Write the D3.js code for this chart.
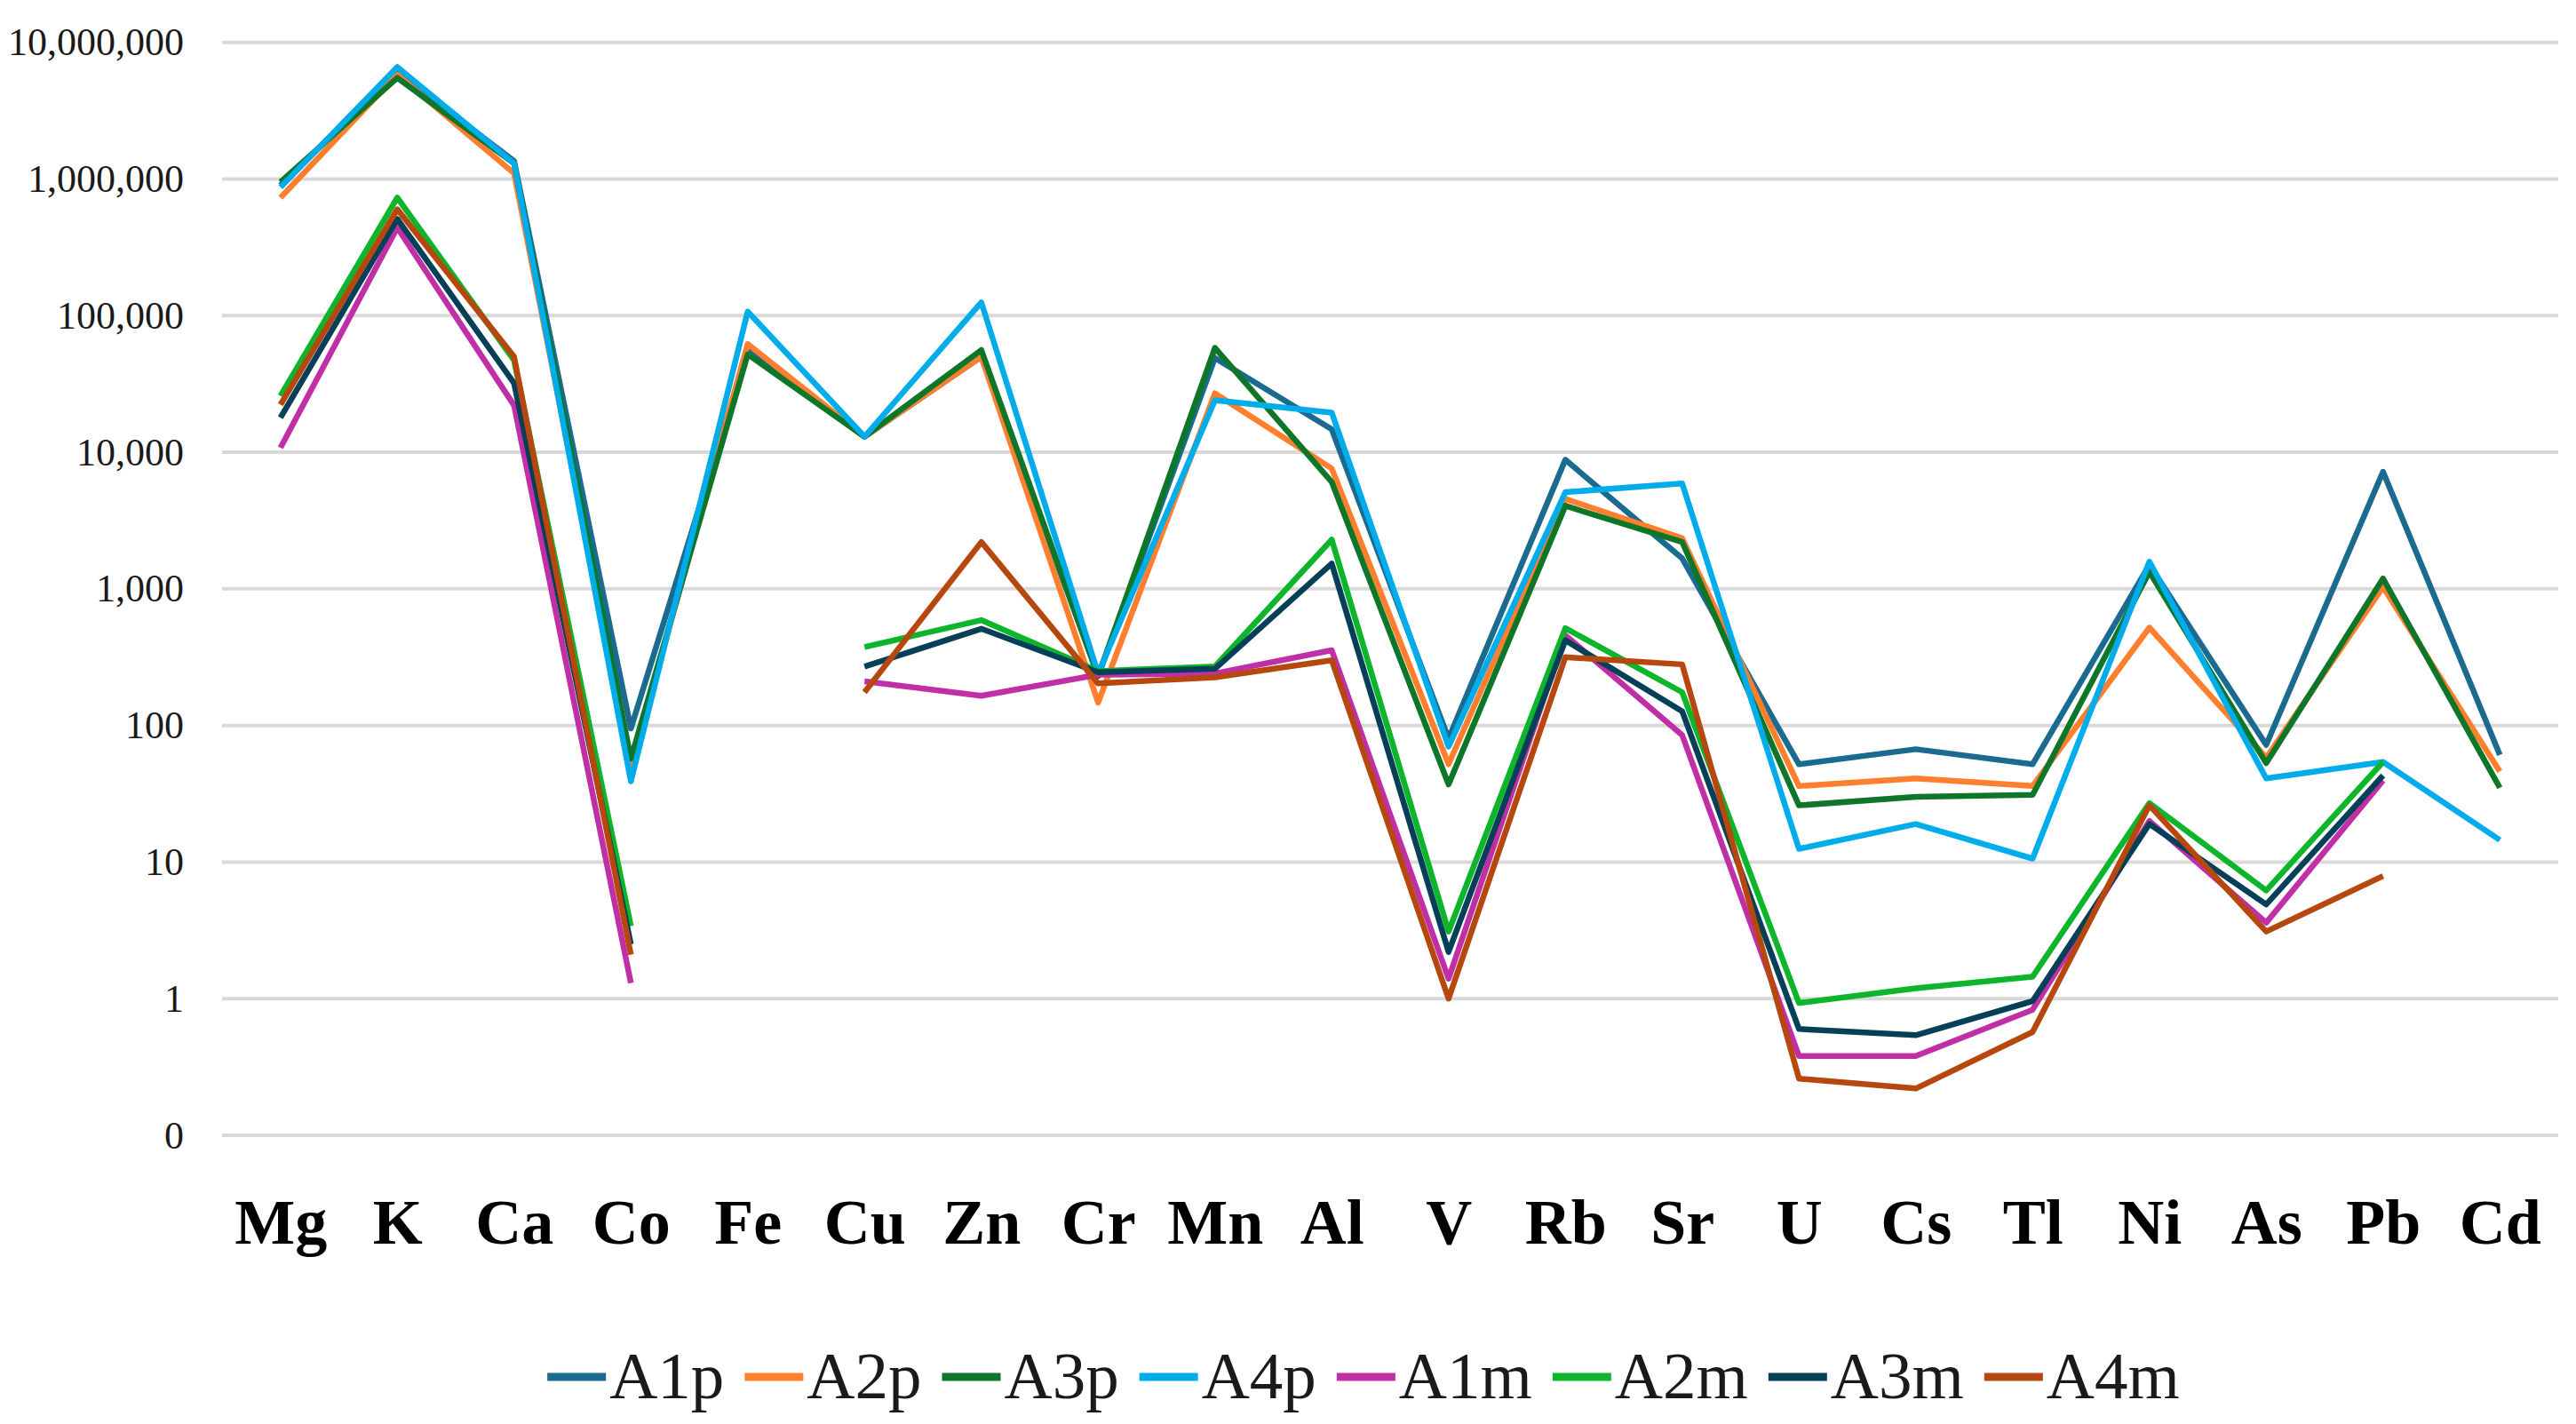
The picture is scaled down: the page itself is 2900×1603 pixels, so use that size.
<!DOCTYPE html>
<html>
<head>
<meta charset="utf-8">
<script src="https://cdn.jsdelivr.net/npm/d3@7"></script>
<style>
  body { margin: 0; background: #fff; }
  svg text { font-family: "Liberation Serif", "DejaVu Serif", serif; }
</style>
</head>
<body>
<div class="chart"></div>
<script>
// data
var elements = ['Mg', 'K', 'Ca', 'Co', 'Fe', 'Cu', 'Zn', 'Cr', 'Mn', 'Al', 'V', 'Rb', 'Sr', 'U', 'Cs', 'Tl', 'Ni', 'As', 'Pb', 'Cd'];
var seriesNames = ['A1p', 'A2p', 'A3p', 'A4p', 'A1m', 'A2m', 'A3m', 'A4m'];
var A1p = [900000, 6100000, 1350000, 95, 55000, 13000, 50000, 230, 49000, 14700, 80, 8800, 1670, 52, 67, 52, 1500, 72, 7200, 61];
var A2p = [730000, 5800000, 1100000, 50, 62000, 13000, 50000, 147, 27000, 7600, 52, 4550, 2350, 36, 41, 36, 520, 58, 1030, 46];
var A3p = [950000, 5500000, 1300000, 57, 52000, 13000, 56000, 230, 58000, 6050, 37, 4050, 2200, 26, 30, 31, 1330, 53, 1190, 35];
var A4p = [870000, 6600000, 1300000, 39, 107000, 13000, 125000, 240, 24000, 19500, 70, 5100, 5900, 12.5, 19, 10.6, 1580, 41, 54, 14.5];
var A1m = [10800, 440000, 22000, 1.3, null, 210, 165, 235, 240, 355, 1.4, 457, 85, 0.38, 0.38, 0.83, 20, 3.6, 39.5, null];
var A2m = [25800, 730000, 47000, 3.4, null, 375, 590, 250, 270, 2290, 3.1, 515, 175, 0.93, 1.19, 1.45, 27, 6.2, 54, null];
var A3m = [17900, 510000, 32000, 2.5, null, 270, 510, 245, 260, 1530, 2.2, 420, 127, 0.6, 0.54, 0.96, 19, 4.9, 43, null];
var A4m = [22300, 600000, 50000, 2.1, null, 175, 2200, 203, 225, 300, 1.0, 316, 280, 0.26, 0.22, 0.57, 26, 3.1, 7.9, null];
var yTicks = [0.1, 1, 10, 100, 1000, 10000, 100000, 1000000, 10000000];

var seriesValues = [A1p, A2p, A3p, A4p, A1m, A2m, A3m, A4m];
var colors = ['#1b6a90', '#ff7f2e', '#0e7628', '#00acea', '#c02fa6', '#0db52b', '#063f58', '#b6470f'];

// Options
var width = 2900,
	height = 1603;
var plotLeft = 250, plotRight = 2880, plotTop = 47.7, plotBottom = 1278;

var svg = d3.select('.chart')
	.append('svg')
	.attr('width', width)
	.attr('height', height);

var x = d3.scalePoint()
	.domain(elements)
	.range([plotLeft, plotRight])
	.padding(0.5);

var y = d3.scaleLog()
	.domain([0.1, 10000000])
	.range([plotBottom, plotTop]);

// gridlines
svg.append('g').attr('class', 'grid').selectAll('line')
	.data(yTicks)
	.enter()
	.append('line')
	.attr('x1', plotLeft)
	.attr('x2', plotRight)
	.attr('y1', function(d) { return y(d); })
	.attr('y2', function(d) { return y(d); })
	.attr('stroke', '#d9d9d9')
	.attr('stroke-width', 4);

// y axis
var yAxis = d3.axisLeft(y)
	.tickValues(yTicks)
	.tickFormat(d3.format(',.0f'))
	.tickSize(0)
	.tickPadding(43);

var gy = svg.append('g')
	.attr('transform', 'translate(' + plotLeft + ',0)')
	.call(yAxis);
gy.select('.domain').remove();
gy.selectAll('text')
	.attr('font-size', 44)
	.attr('fill', '#1a1a1a')
	.style('font-family', '"Liberation Serif", serif');

// x axis
var xAxis = d3.axisBottom(x).tickSize(0).tickPadding(0);
var gx = svg.append('g')
	.attr('transform', 'translate(0,' + plotBottom + ')')
	.call(xAxis);
gx.select('.domain').remove();
gx.selectAll('text')
	.attr('dy', null)
	.attr('y', 122)
	.attr('font-size', 72)
	.attr('font-weight', 'bold')
	.attr('fill', '#000')
	.style('font-family', '"Liberation Serif", serif');

// lines
var line = d3.line()
	.defined(function(d) { return d != null; })
	.x(function(d, i) { return x(elements[i]); })
	.y(function(d) { return y(d); });

svg.append('g').attr('class', 'lines').selectAll('path')
	.data(seriesValues)
	.enter()
	.append('path')
	.attr('d', function(d) { return line(d); })
	.attr('fill', 'none')
	.attr('stroke', function(d, i) { return colors[i]; })
	.attr('stroke-width', 6.5)
	.attr('stroke-linejoin', 'round');

// legend
var legend = svg.append('g').attr('class', 'legend');
var cursor = 0;
var legendY = 1550;
seriesNames.forEach(function(name, i) {
	var item = legend.append('g').attr('transform', 'translate(' + cursor + ',0)');
	item.append('line')
		.attr('x1', 0).attr('x2', 66)
		.attr('y1', legendY).attr('y2', legendY)
		.attr('stroke', colors[i])
		.attr('stroke-width', 9);
	var t = item.append('text')
		.attr('x', 70)
		.attr('y', legendY + 24)
		.attr('font-size', 75)
		.attr('fill', '#1a1a1a')
		.text(name);
	cursor += 70 + t.node().getComputedTextLength() + 23;
});
var legendW = cursor - 23;
legend.attr('transform', 'translate(' + (1535 - legendW / 2) + ',0)');
</script>
</body>
</html>
